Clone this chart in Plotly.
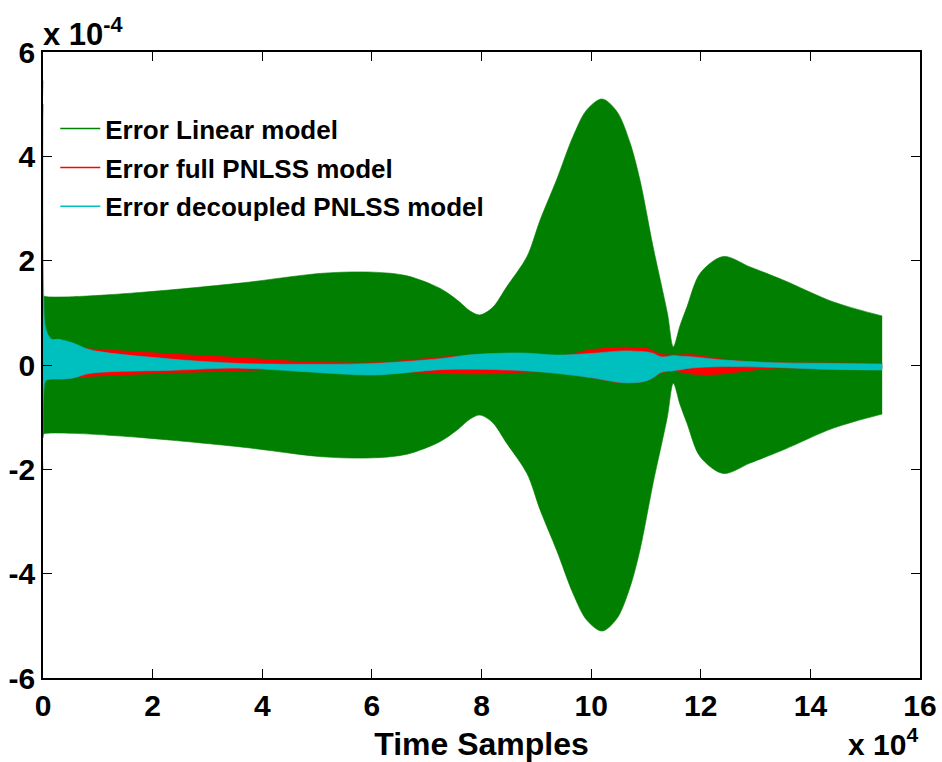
import plotly.graph_objects as go

# ---------- data (x in units of 1e4 samples, y in units of 1e-4) ----------
lin_x = [0, 0.01, 0.07, 0.55, 1.77, 3.6, 5.11, 6.02, 6.64, 7.24, 7.55, 7.8, 7.97, 8.2, 8.46,
         8.83, 9.07, 9.37, 9.67, 9.92, 10.2, 10.47, 10.71, 10.89, 11.13, 11.39, 11.5,
         11.62, 11.75, 11.99, 12.41, 12.9, 13.5, 14.42, 15.31]
lin_up = [5.45, 1.33, 1.31, 1.31, 1.39, 1.57, 1.76, 1.78, 1.71, 1.47, 1.25, 1.03, 0.96, 1.1, 1.5,
          2.08, 2.78, 3.55, 4.38, 4.89, 5.1, 4.86, 4.26, 3.55, 2.27, 1.0, 0.35,
          0.75, 1.12, 1.76, 2.08, 1.88, 1.63, 1.21, 0.94]
lin_lo = [-2.0, -1.33, -1.31, -1.31, -1.39, -1.57, -1.76, -1.78, -1.71, -1.47, -1.25, -1.03, -0.96, -1.1, -1.5,
          -2.08, -2.78, -3.55, -4.38, -4.89, -5.1, -4.86, -4.26, -3.55, -2.27, -1.0, -0.35,
          -0.75, -1.12, -1.76, -2.08, -1.88, -1.63, -1.21, -0.94]

full_x = [0, 0.01, 0.1, 0.25, 0.86, 2.38, 3.59, 4.81, 6.03, 7.24, 7.85, 8.46, 8.77, 9.07,
          9.37, 9.56, 9.98, 10.59, 10.89, 11.02, 11.14, 11.26, 11.5, 11.81, 12.11, 12.42,
          12.72, 13.03, 13.33, 13.94, 15.31]
full_up = [5.0, 0.45, 0.4, 0.35, 0.31, 0.21, 0.14, 0.06, 0.045, 0.15, 0.19, 0.18, 0.17, 0.16,
           0.17, 0.19, 0.29, 0.34, 0.33, 0.32, 0.27, 0.21, 0.19, 0.2, 0.16, 0.11,
           0.08, 0.05, 0.045, 0.04, 0.03]
full_lo = [-1.4, -0.3, -0.28, -0.27, -0.22, -0.15, -0.11, -0.06, -0.1, -0.16, -0.17, -0.16, -0.14, -0.13,
           -0.14, -0.17, -0.24, -0.35, -0.33, -0.3, -0.24, -0.16, -0.12, -0.17, -0.19, -0.17,
           -0.13, -0.09, -0.06, -0.06, -0.06]

dec_x = [0, 0.01, 0.05, 0.15, 0.31, 0.55, 0.86, 2.38, 3.59, 4.81, 6.03, 7.24, 7.85, 8.77,
         9.37, 9.98, 10.59, 10.89, 11.02, 11.14, 11.26, 11.38, 11.5, 11.62, 11.81, 12.42,
         13.33, 14.24, 15.31]
dec_up = [5.0, 1.5, 0.7, 0.5, 0.49, 0.42, 0.29, 0.11, 0.03, 0.013, 0.03, 0.12, 0.2, 0.23,
          0.19, 0.22, 0.27, 0.26, 0.25, 0.22, 0.16, 0.16, 0.18, 0.17, 0.16, 0.096,
          0.045, 0.032, 0.019]
dec_lo = [-1.4, -0.6, -0.3, -0.27, -0.27, -0.25, -0.16, -0.1, -0.06, -0.13, -0.19, -0.09, -0.08, -0.11,
          -0.16, -0.24, -0.34, -0.33, -0.3, -0.24, -0.15, -0.12, -0.11, -0.09, -0.06, -0.03,
          -0.045, -0.08, -0.096]

series = [
    ("Error Linear model", lin_x, lin_up, lin_lo, "#007F00"),
    ("Error full PNLSS model", full_x, full_up, full_lo, "#FF0000"),
    ("Error decoupled PNLSS model", dec_x, dec_up, dec_lo, "#00BFBF"),
]
x_ticks = [0, 2, 4, 6, 8, 10, 12, 14, 16]
y_ticks = [-6, -4, -2, 0, 2, 4, 6]

FONT = "Liberation Sans, Arial, sans-serif"

fig = go.Figure()
for i, (name, xs, up, lo, col) in enumerate(series):
    fig.add_trace(go.Scatter(
        x=xs, y=lo, mode="lines",
        line=dict(color=col, width=0.6, shape="spline", smoothing=0.9),
        showlegend=False, hoverinfo="skip"))
    fig.add_trace(go.Scatter(
        x=xs, y=up, mode="lines", fill="tonexty", fillcolor=col,
        line=dict(color=col, width=0.6, shape="spline", smoothing=0.9),
        showlegend=False, hoverinfo="skip"))
for i, (name, xs, up, lo, col) in enumerate(series):
    fig.add_trace(go.Scatter(
        x=[None], y=[None], mode="lines", name=name, legendgroup=f"g{i}",
        line=dict(color=col, width=1.5)))

axis_common = dict(showline=True, linecolor="black", linewidth=1.5, mirror="ticks",
                   ticks="inside", ticklen=9, tickcolor="black", tickwidth=1,
                   showgrid=False, zeroline=False, automargin=False)

fig.update_layout(
    width=942, height=762,
    margin=dict(l=43, r=22, t=52, b=84),
    paper_bgcolor="white", plot_bgcolor="white",
    font=dict(family=FONT, color="black"),
    xaxis=dict(range=[0, 16], tickvals=x_ticks, ticktext=[str(v) for v in x_ticks],
               tickfont=dict(family=FONT, size=30, weight="bold"),
               title=dict(text="Time Samples", font=dict(family=FONT, size=32, weight="bold"),
                          standoff=16),
               **axis_common),
    yaxis=dict(range=[-6, 6], tickvals=y_ticks, ticktext=[str(v) for v in y_ticks],
               tickfont=dict(family=FONT, size=30, weight="bold"),
               **axis_common),
    legend=dict(x=0.014, y=0.915, xanchor="left", yanchor="top", itemwidth=40,
                bgcolor="rgba(0,0,0,0)", borderwidth=0, tracegroupgap=2,
                font=dict(family=FONT, size=26, weight="bold")),
    annotations=[
        dict(text="x 10<sup>-4</sup>", xref="paper", yref="paper", x=0, y=1.0,
             xanchor="left", yanchor="bottom", showarrow=False, xshift=-2, yshift=-2,
             font=dict(family=FONT, size=31, weight="bold")),
        dict(text="x 10<sup>4</sup>", xref="paper", yref="paper", x=1.0, y=-0.107,
             xanchor="right", yanchor="middle", showarrow=False, yshift=3,
             font=dict(family=FONT, size=30, weight="bold")),
    ],
)

fig.write_html("out.html")
